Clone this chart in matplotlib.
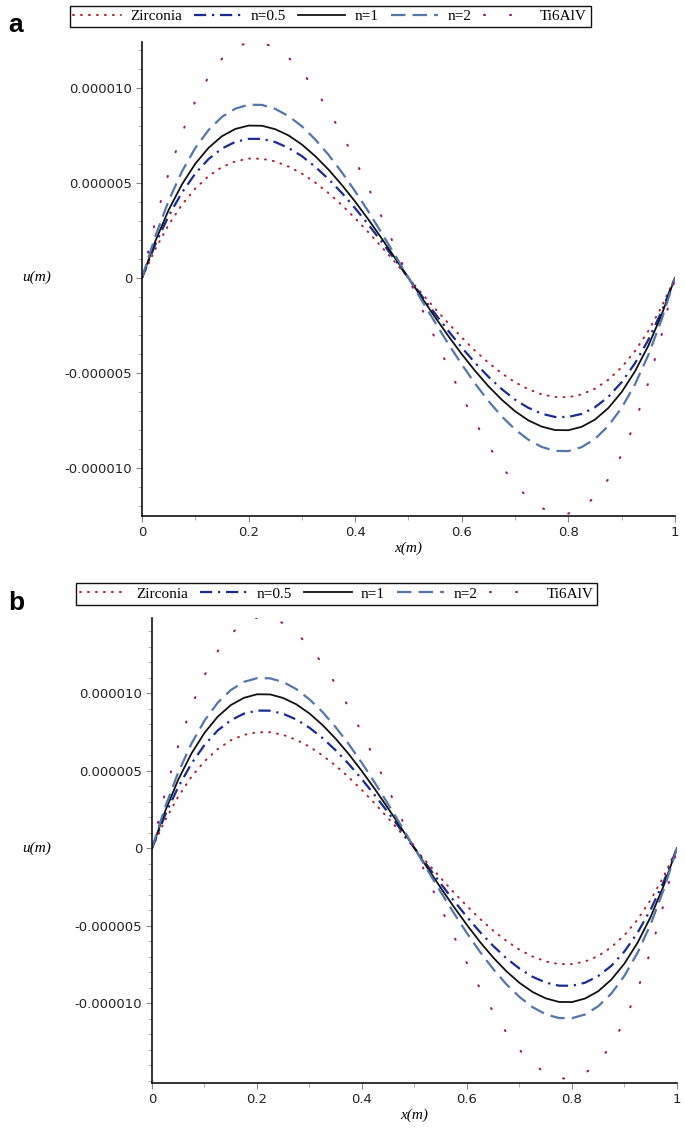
import matplotlib
matplotlib.use("Agg")
import matplotlib.pyplot as plt
from matplotlib.ticker import MultipleLocator, FixedLocator, FixedFormatter

# ---------------- data (u in units of 1e-6 m) ----------------
x = [0.000, 0.025, 0.050, 0.075, 0.100, 0.125, 0.150, 0.175, 0.200, 0.225,
     0.250, 0.275, 0.300, 0.325, 0.350, 0.375, 0.400, 0.425, 0.450, 0.475,
     0.500, 0.525, 0.550, 0.575, 0.600, 0.625, 0.650, 0.675, 0.700, 0.725,
     0.750, 0.775, 0.800, 0.825, 0.850, 0.875, 0.900, 0.925, 0.950, 0.975, 1.000]

series_names = ["Zirconia", "n=0.5", "n=1", "n=2", "Ti6AlV"]

# panel a
a_zirconia = [0, 1.52, 2.80, 3.86, 4.71, 5.37, 5.84, 6.14, 6.29, 6.28,
              6.14, 5.87, 5.50, 5.03, 4.47, 3.84, 3.14, 2.40, 1.62, 0.82,
              0, -0.82, -1.62, -2.40, -3.14, -3.84, -4.47, -5.03, -5.50, -5.87,
              -6.14, -6.28, -6.29, -6.14, -5.84, -5.37, -4.71, -3.86, -2.80, -1.52, 0]
a_n05 = [0, 1.77, 3.27, 4.50, 5.50, 6.27, 6.82, 7.17, 7.33, 7.33,
         7.16, 6.85, 6.42, 5.86, 5.21, 4.48, 3.67, 2.80, 1.89, 0.95,
         0, -0.95, -1.89, -2.80, -3.67, -4.48, -5.21, -5.86, -6.42, -6.85,
         -7.16, -7.33, -7.33, -7.17, -6.82, -6.27, -5.50, -4.50, -3.27, -1.77, 0]
a_n1 = [0, 1.94, 3.58, 4.93, 6.02, 6.86, 7.47, 7.85, 8.03, 8.02,
        7.84, 7.51, 7.03, 6.42, 5.71, 4.90, 4.02, 3.07, 2.07, 1.04,
        0, -1.04, -2.07, -3.07, -4.02, -4.90, -5.71, -6.42, -7.03, -7.51,
        -7.84, -8.02, -8.03, -7.85, -7.47, -6.86, -6.02, -4.93, -3.58, -1.94, 0]
a_n2 = [0, 2.20, 4.07, 5.61, 6.85, 7.80, 8.49, 8.92, 9.13, 9.12,
        8.91, 8.53, 7.99, 7.30, 6.49, 5.57, 4.56, 3.49, 2.35, 1.19,
        0, -1.19, -2.35, -3.49, -4.56, -5.57, -6.49, -7.30, -7.99, -8.53,
        -8.91, -9.12, -9.13, -8.92, -8.49, -7.80, -6.85, -5.61, -4.07, -2.20, 0]
a_ti = [0, 3.00, 5.53, 7.63, 9.32, 10.61, 11.55, 12.14, 12.42, 12.41,
        12.13, 11.61, 10.87, 9.93, 8.83, 7.58, 6.21, 4.74, 3.20, 1.61,
        0, -1.61, -3.20, -4.74, -6.21, -7.58, -8.83, -9.93, -10.87, -11.61,
        -12.13, -12.41, -12.42, -12.14, -11.55, -10.61, -9.32, -7.63, -5.53, -3.00, 0]

# panel b
b_zirconia = [0, 1.80, 3.33, 4.60, 5.61, 6.39, 6.96, 7.31, 7.48, 7.48,
              7.31, 6.99, 6.55, 5.98, 5.32, 4.57, 3.74, 2.86, 1.93, 0.97,
              0, -0.97, -1.93, -2.86, -3.74, -4.57, -5.32, -5.98, -6.55, -6.99,
              -7.31, -7.48, -7.48, -7.31, -6.96, -6.39, -5.61, -4.60, -3.33, -1.80, 0]
b_n05 = [0, 2.14, 3.95, 5.45, 6.66, 7.59, 8.25, 8.68, 8.88, 8.87,
         8.67, 8.30, 7.77, 7.10, 6.31, 5.42, 4.44, 3.39, 2.29, 1.15,
         0, -1.15, -2.29, -3.39, -4.44, -5.42, -6.31, -7.10, -7.77, -8.30,
         -8.67, -8.87, -8.88, -8.68, -8.25, -7.59, -6.66, -5.45, -3.95, -2.14, 0]
b_n1 = [0, 2.39, 4.42, 6.10, 7.44, 8.48, 9.23, 9.70, 9.93, 9.92,
        9.69, 9.28, 8.69, 7.94, 7.06, 6.06, 4.96, 3.79, 2.56, 1.29,
        0, -1.29, -2.56, -3.79, -4.96, -6.06, -7.06, -7.94, -8.69, -9.28,
        -9.69, -9.92, -9.93, -9.70, -9.23, -8.48, -7.44, -6.10, -4.42, -2.39, 0]
b_n2 = [0, 2.65, 4.89, 6.74, 8.23, 9.38, 10.20, 10.73, 10.97, 10.96,
        10.72, 10.26, 9.60, 8.78, 7.80, 6.70, 5.49, 4.19, 2.83, 1.43,
        0, -1.43, -2.83, -4.19, -5.49, -6.70, -7.80, -8.78, -9.60, -10.26,
        -10.72, -10.96, -10.97, -10.73, -10.20, -9.38, -8.23, -6.74, -4.89, -2.65, 0]
b_ti = [0, 3.58, 6.62, 9.13, 11.15, 12.70, 13.82, 14.53, 14.87, 14.85,
        14.52, 13.89, 13.01, 11.89, 10.57, 9.07, 7.43, 5.68, 3.83, 1.93,
        0, -1.93, -3.83, -5.68, -7.43, -9.07, -10.57, -11.89, -13.01, -13.89,
        -14.52, -14.85, -14.87, -14.53, -13.82, -12.70, -11.15, -9.13, -6.62, -3.58, 0]

x_ticks = [0, 0.2, 0.4, 0.6, 0.8, 1.0]
x_ticklabels = ["0", "0.2", "0.4", "0.6", "0.8", "1"]
y_ticks = [-10, -5, 0, 5, 10]
y_ticklabels = ["-0.000010", "-0.000005", "0", "0.000005", "0.000010"]

# ---------------- styles ----------------
styles = [
    dict(color="#a8202e", lw=1.4, ls=(0, (0.5, 3.6)), dash_capstyle="round"),
    dict(color="#1b2a92", lw=1.6, ls=(0, (5.5, 2.6, 1.0, 2.6))),
    dict(color="#111111", lw=1.3, ls="-"),
    dict(color="#5576a8", lw=1.6, ls=(0, (6.5, 3.2))),
    dict(color="#8a1f70", lw=1.5, ls=(0, (0.5, 12.0)), dash_capstyle="round"),
]

fig = plt.figure(figsize=(6.85, 11.34), dpi=100)

panels = [
    dict(rect=[0.2073, 0.545, 0.778, 0.4182], data=[a_zirconia, a_n05, a_n1, a_n2, a_ti],
         ylim=(-12.55, 12.45), letter="a", letter_xy=(0.012, 0.978),
         leg=(0.482, 0.9854), ulab=(0.053, 0.7557)),
    dict(rect=[0.2219, 0.045, 0.7664, 0.410], data=[b_zirconia, b_n05, b_n1, b_n2, b_ti],
         ylim=(-15.15, 14.85), letter="b", letter_xy=(0.012, 0.468),
         leg=(0.491, 0.4762), ulab=(0.053, 0.2522)),
]

for p in panels:
    ax = fig.add_axes(p["rect"])
    handles = []
    for name, ys, st in zip(series_names, p["data"], styles):
        h, = ax.plot(x, ys, label=name, **st)
        handles.append(h)
    ax.set_xlim(0, 1.0)
    ax.set_ylim(*p["ylim"])
    for s in ["top", "right"]:
        ax.spines[s].set_visible(False)
    for s in ["left", "bottom"]:
        ax.spines[s].set_linewidth(1.2)
        ax.spines[s].set_color("#111111")
    ax.xaxis.set_major_locator(FixedLocator(x_ticks))
    ax.xaxis.set_major_formatter(FixedFormatter(x_ticklabels))
    ax.xaxis.set_minor_locator(MultipleLocator(0.1))
    ax.yaxis.set_major_locator(FixedLocator(y_ticks))
    ax.yaxis.set_major_formatter(FixedFormatter(y_ticklabels))
    ax.yaxis.set_minor_locator(MultipleLocator(1))
    ax.tick_params(which="major", length=4, width=0.8, color="#888888",
                   labelsize=9.5, pad=3)
    ax.tick_params(which="minor", length=3, width=0.7, color="#aaaaaa")
    for lab in ax.get_xticklabels() + ax.get_yticklabels():
        lab.set_family("DejaVu Sans")
        lab.set_color("#222222")
    ax.set_xlabel("x(m)", family="Liberation Serif", style="italic",
                  fontsize=11, labelpad=2)
    fig.text(p["ulab"][0], p["ulab"][1], "u(m)", family="Liberation Serif",
             style="italic", fontsize=11, ha="center", va="center")
    fig.text(p["letter_xy"][0], p["letter_xy"][1], p["letter"],
             family="Liberation Sans", weight="bold", fontsize=19,
             ha="left", va="center")
    leg = fig.legend(handles=handles, loc="center", bbox_to_anchor=p["leg"],
                     ncol=5, frameon=True, fancybox=False, framealpha=1,
                     edgecolor="#111111", handlelength=3.1, handletextpad=0.6,
                     columnspacing=0.8, borderpad=0.25,
                     prop=dict(family="Liberation Serif", size=11))
    leg.get_frame().set_linewidth(1.0)

fig.savefig("out.png", dpi=100)
